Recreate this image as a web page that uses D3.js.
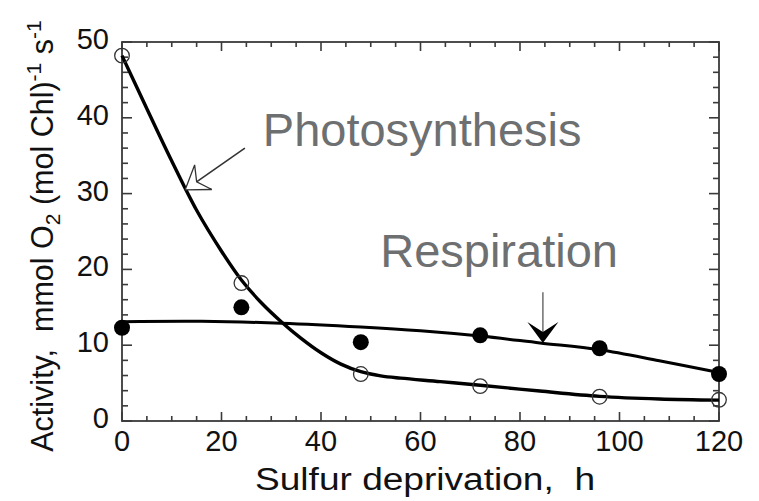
<!DOCTYPE html>
<html>
<head>
<meta charset="utf-8">
<script src="https://cdn.jsdelivr.net/npm/d3@7"></script>
<style>
  html, body { margin: 0; padding: 0; background: #fff; }
  svg { display: block; }
  text { font-family: "Liberation Sans", Arial, Helvetica, sans-serif; white-space: pre; }
</style>
</head>
<body>
<svg id="chart" width="759" height="501"></svg>
<script>
// ---- data ----
const timeH        = [0, 24, 48, 72, 96, 120];
const photoValues  = [48.2, 18.2, 6.2, 4.6, 3.2, 2.8];   // open circles
const respValues   = [12.3, 15.0, 10.4, 11.3, 9.6, 6.2];  // filled circles

// fitted curves
const photoCurveT = [0, 5, 10, 15, 20, 24, 28, 32, 36, 40, 44, 48, 52, 56, 64, 72, 84, 96, 108, 120];
const photoCurveV = [48.2, 41.2, 34.3, 27.8, 22.4, 18.6, 15.6, 13.1, 10.9, 9.0, 7.5, 6.5, 5.95, 5.65, 5.2, 4.72, 3.95, 3.25, 2.9, 2.75];
const respCurveT  = [0, 16, 32, 48, 60, 72, 84, 96, 108, 120];
const respCurveV  = [13.1, 13.15, 12.9, 12.4, 11.9, 11.2, 10.3, 9.4, 7.95, 6.4];

const xTickLabels = [0, 20, 40, 60, 80, 100, 120];
const yTickLabels = [0, 10, 20, 30, 40, 50];
const xMinorTicks = d3.range(0, 121, 5);
const yMinorTicks = d3.range(0, 51, 2);

// annotations (in data units)
const photoLabel = { text: "Photosynthesis", x: 28.3, y: 36.3 };
const photoArrow = { x0: 24.7, y0: 36.0, x1: 12.7, y1: 30.5 };
const respLabel  = { text: "Respiration", x: 51.9, y: 20.3 };
const respArrow  = { x0: 84.6, y0: 17.0, x1: 84.6, y1: 10.3 };

// ---- drawing ----
const svg = d3.select("#chart");
const x = d3.scaleLinear().domain([0, 120]).range([122, 719]);
const y = d3.scaleLinear().domain([0, 50]).range([421, 42]);
const axisColor = "#3a3a3a";

// frame
svg.append("rect")
  .attr("x", x(0)).attr("y", y(50))
  .attr("width", x(120) - x(0)).attr("height", y(0) - y(50))
  .attr("fill", "none").attr("stroke", axisColor).attr("stroke-width", 1.8);

// ticks (inward on all four sides)
const tickG = svg.append("g").attr("stroke", axisColor).attr("stroke-width", 1.6);
xMinorTicks.forEach(v => {
  const len = v % 20 === 0 ? 9 : 5;
  tickG.append("line").attr("x1", x(v)).attr("x2", x(v)).attr("y1", y(0)).attr("y2", y(0) - len);
  tickG.append("line").attr("x1", x(v)).attr("x2", x(v)).attr("y1", y(50)).attr("y2", y(50) + len);
});
yMinorTicks.forEach(v => {
  const len = v % 10 === 0 ? 10 : 6;
  tickG.append("line").attr("y1", y(v)).attr("y2", y(v)).attr("x1", x(0)).attr("x2", x(0) + len);
  tickG.append("line").attr("y1", y(v)).attr("y2", y(v)).attr("x1", x(120)).attr("x2", x(120) - len);
});

// tick labels
svg.append("g").selectAll("text").data(xTickLabels).join("text")
  .attr("x", d => x(d)).attr("y", 451)
  .attr("text-anchor", "middle").attr("font-size", 29).attr("fill", "#111")
  .text(d => d);
svg.append("g").selectAll("text").data(yTickLabels).join("text")
  .attr("x", 109).attr("y", d => y(d) + 7)
  .attr("text-anchor", "end").attr("font-size", 29).attr("fill", "#111")
  .text(d => d);

// axis titles
svg.append("text")
  .attr("x", 255).attr("y", 490)
  .attr("font-size", 31).attr("fill", "#111")
  .attr("textLength", 340).attr("lengthAdjust", "spacingAndGlyphs")
  .text("Sulfur deprivation,  h");

const yt = svg.append("text")
  .attr("transform", "translate(53,236) rotate(-90)")
  .attr("text-anchor", "middle").attr("font-size", 30.5).attr("fill", "#111");
yt.append("tspan").text("Activity,  mmol O");
yt.append("tspan").attr("font-size", 21).attr("dy", 7).text("2");
yt.append("tspan").attr("dy", -7).text(" (mol Chl)");
yt.append("tspan").attr("font-size", 21).attr("dy", -12).text("-1");
yt.append("tspan").attr("dy", 12).text(" s");
yt.append("tspan").attr("font-size", 21).attr("dy", -12).text("-1");

// curves
const line = d3.line().x(d => x(d[0])).y(d => y(d[1])).curve(d3.curveCatmullRom.alpha(0.5));
svg.append("path")
  .datum(photoCurveT.map((t, i) => [t, photoCurveV[i]]))
  .attr("d", line).attr("fill", "none").attr("stroke", "#000").attr("stroke-width", 3.4);
svg.append("path")
  .datum(respCurveT.map((t, i) => [t, respCurveV[i]]))
  .attr("d", line).attr("fill", "none").attr("stroke", "#000").attr("stroke-width", 3);

// markers
svg.append("g").selectAll("circle").data(timeH).join("circle")
  .attr("cx", d => x(d)).attr("cy", (d, i) => y(photoValues[i]))
  .attr("r", 7.3).attr("fill", "none").attr("stroke", "#333").attr("stroke-width", 1.3);
svg.append("g").selectAll("circle").data(timeH).join("circle")
  .attr("cx", d => x(d)).attr("cy", (d, i) => y(respValues[i]))
  .attr("r", 8).attr("fill", "#000");

// annotations
const grey = "#6d6f71";
svg.append("text").attr("x", x(photoLabel.x)).attr("y", y(photoLabel.y))
  .attr("font-size", 47).attr("fill", grey).text(photoLabel.text);
svg.append("text").attr("x", x(respLabel.x)).attr("y", y(respLabel.y))
  .attr("font-size", 47).attr("fill", grey).text(respLabel.text);

function arrow(a, hollow, lineColor) {
  const X0 = x(a.x0), Y0 = y(a.y0), X1 = x(a.x1), Y1 = y(a.y1);
  const ang = Math.atan2(Y1 - Y0, X1 - X0) * 180 / Math.PI;
  const L = Math.hypot(X1 - X0, Y1 - Y0);
  const g = svg.append("g").attr("transform", `translate(${X1},${Y1}) rotate(${ang})`);
  g.append("line").attr("x1", -L).attr("y1", 0).attr("x2", hollow ? -13 : -10).attr("y2", 0)
    .attr("stroke", lineColor).attr("stroke-width", 1.6);
  g.append("path").attr("d", hollow ? "M0,0L-22,-15L-14,0L-22,15Z" : "M0,0L-21,-15.5L-11,0L-21,15.5Z")
    .attr("fill", hollow ? "#fff" : "#000")
    .attr("stroke", hollow ? "#333" : "none").attr("stroke-width", 1.3)
    .attr("stroke-linejoin", "miter");
}
arrow(photoArrow, true, "#333");
arrow(respArrow, false, "#777");
</script>
</body>
</html>
